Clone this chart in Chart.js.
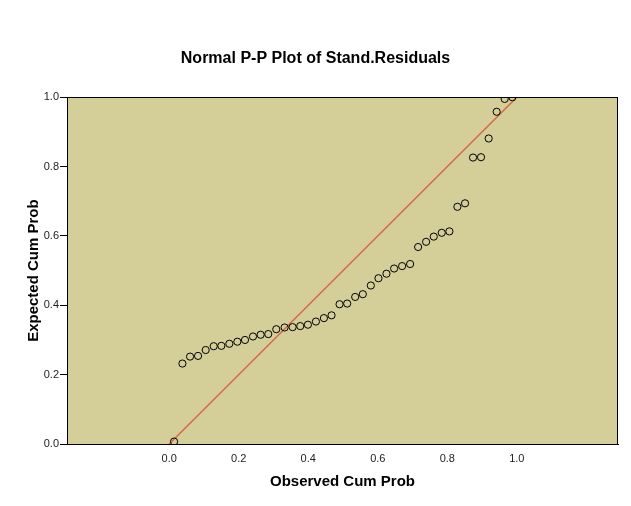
<!DOCTYPE html>
<html>
<head>
<meta charset="utf-8">
<script src="https://cdn.jsdelivr.net/npm/chart.js@4"></script>
<style>
html,body{margin:0;padding:0;background:#fff;}
#wrap{width:631px;height:506px;}
</style>
</head>
<body>
<div id="wrap"><canvas id="c" width="631" height="506"></canvas></div>
<script>
const chartTitle = "Normal P-P Plot of Stand.Residuals";
const xTitle = "Observed Cum Prob";
const yTitle = "Expected Cum Prob";
const tickValues = [0, 0.2, 0.4, 0.6, 0.8, 1.0];
const observed = [0.014,0.038,0.060,0.083,0.105,0.128,0.150,0.173,0.196,0.218,0.241,0.263,0.285,0.308,0.332,0.355,0.377,0.399,0.422,0.445,0.467,0.490,0.512,0.535,0.557,0.580,0.602,0.625,0.647,0.670,0.693,0.716,0.739,0.761,0.784,0.806,0.829,0.851,0.874,0.897,0.919,0.942,0.965,0.987];
const expected = [0.007,0.232,0.252,0.254,0.271,0.282,0.283,0.289,0.295,0.300,0.310,0.315,0.317,0.331,0.336,0.337,0.340,0.344,0.353,0.363,0.371,0.403,0.405,0.424,0.432,0.457,0.478,0.491,0.506,0.513,0.519,0.568,0.583,0.598,0.609,0.613,0.684,0.694,0.826,0.827,0.881,0.958,0.995,1.000];
const refLineX = [0, 1];
const refLineY = [0, 1];

const pts = observed.map((x, i) => ({x: x, y: expected[i]}));
const refPts = refLineX.map((x, i) => ({x: x, y: refLineY[i]}));

const bgPlugin = {
  id: 'plotbg',
  beforeDraw(chart) {
    const a = chart.chartArea, ctx = chart.ctx;
    ctx.save();
    ctx.fillStyle = 'rgb(212,206,153)';
    ctx.fillRect(a.left, a.top, a.right - a.left, a.bottom - a.top);
    ctx.restore();
  },
  afterDraw(chart) {
    const a = chart.chartArea, ctx = chart.ctx;
    ctx.save();
    ctx.strokeStyle = '#000';
    ctx.lineWidth = 1;
    ctx.strokeRect(Math.round(a.left) + 0.5, Math.round(a.top) + 0.5, Math.round(a.right - a.left) - 1, Math.round(a.bottom - a.top));
    ctx.restore();
  }
};

const font = "'Liberation Sans', Arial, sans-serif";

new Chart(document.getElementById('c'), {
  type: 'scatter',
  data: {
    datasets: [
      {
        type: 'line',
        data: refPts,
        borderColor: 'rgb(214,106,78)',
        borderWidth: 1.5,
        pointRadius: 0,
        fill: false,
        order: 2
      },
      {
        data: pts,
        pointRadius: 3.6,
        pointBorderColor: '#000',
        pointBackgroundColor: 'rgba(0,0,0,0)',
        pointBorderWidth: 1,
        order: 1
      }
    ]
  },
  options: {
    responsive: false,
    animation: false,
    layout: { padding: { left: 0, right: 0, top: 0, bottom: 0 } },
    plugins: {
      legend: { display: false },
      tooltip: { enabled: false },
      title: {
        display: true,
        text: chartTitle,
        color: '#000',
        font: { family: font, size: 16, weight: 'bold' },
        padding: { top: 49, bottom: 29 }
      }
    },
    scales: {
      x: {
        type: 'linear',
        min: -0.294,
        max: 1.291,
        afterBuildTicks(scale) { scale.ticks = tickValues.map(v => ({value: v})); },
        afterFit(scale) { scale.height = 62; },
        grid: { display: false, drawOnChartArea: false, drawTicks: true, tickLength: 6, color: '#000' },
        border: { display: true, color: '#000', width: 1 },
        ticks: {
          color: '#222',
          font: { family: font, size: 11 },
          padding: 2,
          callback: v => Number(v).toFixed(1)
        },
        title: {
          display: true,
          text: xTitle,
          color: '#000',
          font: { family: font, size: 15, weight: 'bold' },
          padding: { top: 15, bottom: 15 }
        }
      },
      y: {
        type: 'linear',
        min: 0,
        max: 1,
        afterBuildTicks(scale) { scale.ticks = tickValues.map(v => ({value: v})); },
        afterFit(scale) { scale.width = 67; },
        grid: { display: true, drawOnChartArea: false, drawTicks: true, tickLength: 7, color: '#000' },
        border: { display: true, color: '#000', width: 1 },
        ticks: {
          color: '#222',
          font: { family: font, size: 11 },
          padding: 1,
          callback: v => Number(v).toFixed(1)
        },
        title: {
          display: true,
          text: yTitle,
          color: '#000',
          font: { family: font, size: 15, weight: 'bold' },
          padding: { top: 25, bottom: 25 }
        }
      },
      yRight: {
        type: 'linear',
        position: 'right',
        min: 0,
        max: 1,
        afterFit(scale) { scale.width = 13; },
        grid: { display: false, drawOnChartArea: false, drawTicks: false },
        border: { display: false },
        ticks: { display: false },
        title: { display: false }
      }
    }
  },
  plugins: [bgPlugin]
});
</script>
</body>
</html>
